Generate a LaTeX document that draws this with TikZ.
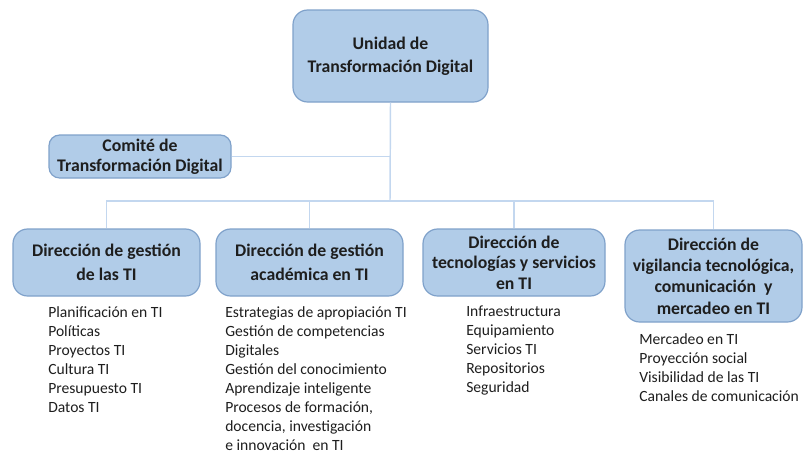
\documentclass[tikz,border=0pt]{standalone}
\usepackage{fontspec}
\setmainfont{Carlito}
\definecolor{boxfill}{HTML}{B1CCE8}
\definecolor{boxline}{HTML}{7FA1CA}
\definecolor{linkline}{HTML}{C3D7EF}
\definecolor{ink}{HTML}{1E1E1E}
\tikzset{
  unit/.style={draw=boxline, fill=boxfill, line width=0.9pt, rounded corners=11pt,
    align=center, text=ink, inner sep=0pt, font=\fontsize{13.3}{16}\selectfont\bfseries},
  link/.style={draw=linkline, line width=1.1pt},
  tasks/.style={anchor=north west, align=left, inner sep=0pt, text=ink,
    font=\fontsize{11.7}{14.25}\selectfont}
}
\begin{document}
\begin{tikzpicture}[x=0.75pt, y=-0.75pt]
		\useasboundingbox (0,0) rectangle (804,455);

		\node[unit, minimum width=195*0.75pt, minimum height=92*0.75pt,
		  font=\fontsize{13.3}{17.5}\selectfont\bfseries] (udt) at (390.5,56) {Unidad de\\Transformación Digital};
		\node[unit, minimum width=182*0.75pt, minimum height=43*0.75pt, rounded corners=8pt,
		  font=\fontsize{13.3}{15}\selectfont\bfseries] (comite) at (140,156.5) {Comité de\\Transformación Digital};

		\node[unit, minimum width=187*0.75pt, minimum height=67*0.75pt,
		  font=\fontsize{13.3}{18}\selectfont\bfseries] (gestion) at (106.5,262.5) {Dirección de gestión\\de las TI};
		\node[unit, minimum width=187*0.75pt, minimum height=67*0.75pt,
		  font=\fontsize{13.3}{18}\selectfont\bfseries] (academica) at (309.5,262.5) {Dirección de gestión\\académica en TI};
		\node[unit, minimum width=182*0.75pt, minimum height=67*0.75pt,
		  font=\fontsize{13.3}{15.4}\selectfont\bfseries] (tecnologias) at (514,262.5) {Dirección de\\tecnologías y servicios\\en TI};
		\node[unit, minimum width=177*0.75pt, minimum height=92*0.75pt] (vigilancia) at (713.5,276)
		  {Dirección de\\vigilancia tecnológica,\\comunicación~ y\\mercadeo en TI};

		\coordinate (bus) at (390,201);
		\draw[link] (udt.south) -- (bus);
		\draw[link] (comite.east) -- (comite.east -| udt.south);
		\draw[link] (gestion.north) |- (bus) -| (vigilancia.north);
		\draw[link] (academica.north) -- (academica.north |- bus);
		\draw[link] (tecnologias.north) -- (tecnologias.north |- bus);

		\node[tasks] (listagestion) at (48,306) {Planificación en TI\\Políticas\\Proyectos TI\\Cultura TI\\Presupuesto TI\\Datos TI};
		\node[tasks] (listaacademica) at (225,306) {Estrategias de apropiación TI\\Gestión de competencias\\Digitales\\Gestión del conocimiento\\Aprendizaje inteligente\\Procesos de formación,\\docencia, investigación\\e innovación~ en TI};
		\node[tasks] (listatecnologias) at (466,306) {Infraestructura\\Equipamiento\\Servicios TI\\Repositorios\\Seguridad};
		\node[tasks] (listavigilancia) at (639,333) {Mercadeo en TI\\Proyección social\\Visibilidad de las TI\\Canales de comunicación};

	\end{tikzpicture}
\end{document}
